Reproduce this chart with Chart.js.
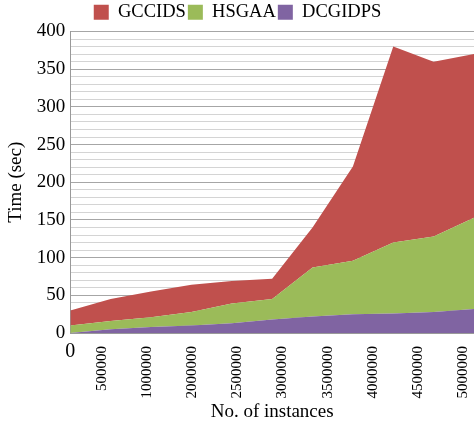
<!DOCTYPE html>
<html>
<head>
<meta charset="utf-8">
<script src="https://cdn.jsdelivr.net/npm/chart.js@4.4.1/dist/chart.umd.min.js"></script>
<style>
  html, body { margin: 0; padding: 0; background: #fff; }
  #wrap { width: 474px; height: 426px; }
</style>
</head>
<body>
<div id="wrap"><canvas id="chart"></canvas></div>
<script>
// 11 points along the x axis, only 10 tick labels printed in the original figure
const points = ["p0", "p1", "p2", "p3", "p4", "p5", "p6", "p7", "p8", "p9", "p10"];
const tickLabels = ["0", "500000", "1000000", "2000000", "2500000", "3000000",
                    "3500000", "4000000", "4500000", "5000000"];

// time in seconds, stacked bottom to top
const dcgidps = [0, 5, 8, 10, 13, 18, 22, 25, 26, 28, 32];
const hsgaa   = [10, 11, 13, 18, 26, 27, 65, 71, 94, 100, 121];
const gccids  = [20, 29, 34, 36, 30, 27, 53, 125, 260, 232, 217];

const serif = "'Liberation Serif', 'Times New Roman', serif";

// draws the first x label flat at the origin, like the source figure
const flatZero = {
  id: "flatZero",
  afterDraw(chart) {
    const ctx = chart.ctx;
    ctx.save();
    ctx.font = "20px " + serif;
    ctx.fillStyle = "#000";
    ctx.textAlign = "center";
    ctx.textBaseline = "top";
    ctx.fillText(tickLabels[0], chart.scales.x.getPixelForValue(0), chart.scales.x2.top + 9);
    ctx.restore();
  }
};

new Chart(document.getElementById("chart"), {
  type: "line",
  data: {
    datasets: [
      { label: "DCGIDPS", data: dcgidps, backgroundColor: "#8064A2", fill: "origin" },
      { label: "HSGAA", data: hsgaa, backgroundColor: "#9BBB59", fill: "-1" },
      { label: "GCCIDS", data: gccids, backgroundColor: "#C0504D", fill: "-1" },
    ].map(d => ({ ...d, borderWidth: 0, pointRadius: 0, tension: 0, xAxisID: "x" })),
  },
  options: {
    responsive: true,
    maintainAspectRatio: false,
    animation: false,
    layout: { padding: { top: 1, right: 0, left: 1, bottom: 3 } },
    plugins: {
      legend: {
        reverse: true,
        labels: {
          font: { family: serif, size: 18.5 },
          color: "#000",
          boxWidth: 15,
          boxHeight: 15,
          padding: 2,
        },
      },
      tooltip: { enabled: false },
    },
    scales: {
      x: {
        type: "category",
        labels: points,
        display: false,
        offset: false,
      },
      // label axis: the printed labels sit a little off the data points in the source
      x2: {
        type: "linear",
        position: "bottom",
        min: 0.307,
        max: 9.234,
        grid: { display: false },
        border: { color: "#999" },
        afterBuildTicks: s => {
          s.ticks = tickLabels.slice(1).map((_, i) => ({ value: i + 1 }));
        },
        afterFit: s => {
          s.paddingLeft = 0;
          s.paddingRight = 0;
          s.height = 90;
        },
        ticks: {
          autoSkip: false,
          minRotation: 90,
          maxRotation: 90,
          padding: 5,
          color: "#000",
          font: { family: serif, size: 15 },
          callback: v => tickLabels[v],
        },
        title: {
          display: true,
          text: "No. of instances",
          color: "#000",
          font: { family: serif, size: 19 },
          padding: { top: 5, bottom: 0 },
        },
      },
      y: {
        stacked: true,
        min: 0,
        max: 400,
        border: { color: "#999" },
        grid: {
          color: c => (c.tick.value % 50 === 0 ? "#a6a6a6" : "#d4d4d4"),
          drawTicks: false,
        },
        ticks: {
          stepSize: 10,
          autoSkip: false,
          padding: 5,
          color: "#000",
          font: { family: serif, size: 19 },
          callback: v => (v % 50 === 0 ? v : ""),
        },
        title: {
          display: true,
          text: "Time (sec)",
          color: "#000",
          font: { family: serif, size: 19 },
          padding: { bottom: 4 },
        },
      },
    },
  },
  plugins: [flatZero],
});
</script>
</body>
</html>
